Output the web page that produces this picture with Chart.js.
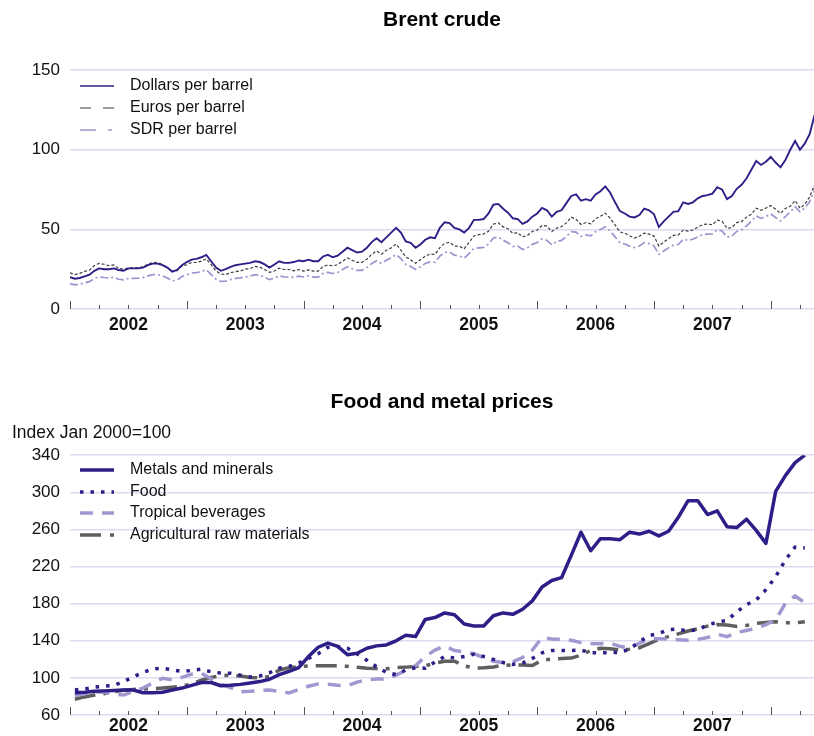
<!DOCTYPE html>
<html>
<head>
<meta charset="utf-8">
<title>Brent crude - Food and metal prices</title>
<script src="https://cdn.jsdelivr.net/npm/chart.js@4.4.1/dist/chart.umd.min.js"></script>
<style>
  html, body { margin: 0; padding: 0; background: #fff; }
  #contenitore { position: relative; width: 814px; height: 736px; }
  #grafico-brent { position: absolute; left: 0; top: 0; }
  #grafico-prezzi { position: absolute; left: 0; top: 380px; }
</style>
</head>
<body>
<div id="contenitore">
  <canvas id="grafico-brent" width="814" height="345"></canvas>
  <canvas id="grafico-prezzi" width="814" height="356"></canvas>
</div>
<script>
// --- dati ---------------------------------------------------------------
var anni = [2002, 2003, 2004, 2005, 2006, 2007];
var inizioAsse = 2002;
var fineAsse = 2008.37;

// Brent, due valori al mese (1 e 16), gen 2002 - meta maggio 2008
var brentDollari = [
  20.0, 19.0, 19.5, 20.5, 21.5, 24.0, 25.5, 25.0, 25.0, 25.5, 24.5, 24.0,
  25.5, 25.5, 25.5, 26.0, 27.5, 28.5, 28.5, 27.5, 26.0, 23.5, 24.5, 27.5,
  29.5, 31.0, 31.5, 32.5, 34.0, 30.0, 26.0, 24.0, 25.0, 26.5, 27.5, 28.0,
  28.5, 29.0, 30.0, 29.5, 28.0, 26.0, 28.0, 30.0, 29.0, 29.0, 29.5, 30.5,
  30.0, 31.0, 30.0, 30.0, 33.0, 34.0, 32.5, 33.5, 36.0, 38.5, 37.0, 35.5,
  36.0, 38.5, 42.0, 44.5, 42.0, 45.0, 48.0, 51.0, 48.0, 42.5, 41.5, 38.5,
  40.5, 43.5, 45.0, 44.5, 51.0, 54.5, 54.0, 51.0, 50.0, 48.0, 51.0, 56.0,
  56.0, 56.5, 60.0, 65.5, 66.0, 63.0, 60.5, 57.0, 56.5, 53.5, 55.0, 58.0,
  60.0, 63.5, 62.0, 58.0, 61.0, 62.0, 66.5, 71.0, 72.0, 68.0, 69.0, 68.0,
  72.0, 74.0, 77.0, 73.0, 67.0, 61.5, 60.0, 58.0, 57.5, 59.0, 63.0, 62.0,
  59.5, 51.5, 55.0, 58.0, 61.0, 61.5, 67.0, 66.0, 67.0, 69.5, 71.0, 71.5,
  72.5, 76.5, 75.0, 69.0, 71.0, 75.5, 78.0, 82.0, 87.5, 93.0, 90.5, 92.5,
  95.5, 92.0, 89.0, 93.5, 100.0, 105.5, 100.0, 104.0, 110.0, 122.0
];
var brentEuro = [
  22.7, 21.6, 22.4, 23.6, 24.4, 27.3, 28.7, 28.1, 27.2, 27.7, 25.5, 25.0,
  25.8, 25.8, 26.0, 26.5, 28.1, 29.1, 29.1, 28.1, 26.0, 23.5, 24.0, 27.0,
  27.8, 29.2, 29.2, 30.1, 31.5, 27.8, 23.9, 22.0, 21.6, 22.8, 23.5, 23.9,
  25.0, 25.4, 26.8, 26.3, 24.8, 23.0, 23.9, 25.6, 24.8, 24.8, 24.0, 24.8,
  23.8, 24.6, 23.8, 23.8, 26.8, 27.6, 27.1, 27.9, 30.0, 32.1, 30.6, 29.3,
  29.3, 31.3, 34.4, 36.5, 34.4, 36.9, 38.4, 40.8, 36.9, 32.7, 31.0, 28.7,
  30.9, 33.2, 34.6, 34.2, 38.6, 41.3, 41.9, 39.5, 39.4, 37.8, 41.8, 45.9,
  46.7, 47.1, 48.8, 53.3, 54.1, 51.6, 50.4, 47.5, 47.9, 45.3, 46.2, 48.7,
  49.6, 52.5, 52.1, 48.7, 50.8, 51.7, 54.1, 57.7, 56.3, 53.1, 54.3, 53.5,
  56.7, 58.3, 60.2, 57.0, 52.8, 48.4, 47.6, 46.0, 44.6, 45.7, 47.7, 47.0,
  45.8, 39.6, 42.0, 44.3, 46.2, 46.6, 49.6, 48.9, 49.6, 51.5, 53.0, 53.4,
  52.9, 55.8, 55.1, 50.7, 51.1, 54.3, 54.9, 57.7, 59.5, 63.3, 62.0, 63.4,
  65.0, 62.6, 60.1, 63.2, 64.5, 68.1, 63.3, 65.8, 70.5, 78.0
];
var brentSdr = [
  16.0, 15.2, 15.6, 16.4, 17.2, 19.2, 20.2, 19.8, 19.5, 19.9, 18.7, 18.3,
  19.2, 19.2, 19.3, 19.7, 20.8, 21.6, 21.6, 20.8, 19.5, 17.7, 18.1, 20.4,
  21.5, 22.6, 22.8, 23.6, 24.6, 21.7, 18.7, 17.3, 17.5, 18.5, 19.2, 19.6,
  20.2, 20.6, 21.6, 21.2, 19.9, 18.4, 19.4, 20.8, 20.1, 20.1, 19.9, 20.6,
  20.1, 20.8, 20.0, 20.0, 22.3, 23.0, 22.3, 22.9, 24.8, 26.6, 25.3, 24.3,
  24.3, 26.0, 28.6, 30.3, 28.6, 30.6, 32.2, 34.2, 31.6, 28.0, 26.8, 24.8,
  26.6, 28.6, 29.6, 29.3, 33.3, 35.6, 35.8, 33.8, 33.3, 32.0, 34.7, 38.1,
  38.4, 38.7, 40.8, 44.6, 45.2, 43.2, 41.7, 39.3, 39.5, 37.4, 38.5, 40.6,
  41.7, 44.1, 43.1, 40.3, 42.4, 43.1, 45.5, 48.6, 48.3, 45.6, 46.6, 45.9,
  48.6, 50.0, 51.7, 49.0, 45.3, 41.6, 40.8, 39.5, 38.6, 39.6, 41.7, 41.1,
  39.7, 34.3, 36.4, 38.4, 40.1, 40.5, 43.8, 43.1, 43.8, 45.4, 46.7, 47.0,
  47.1, 49.7, 49.0, 45.1, 45.8, 48.7, 49.7, 52.2, 55.0, 58.5, 56.9, 58.2,
  59.7, 57.5, 55.3, 58.1, 61.0, 64.3, 61.0, 63.4, 67.5, 75.0
];

// indici mensili (Jan 2000=100), gen 2002 - apr 2008
var metalli = [
  84, 84.5, 85.5, 86, 86.5, 87, 87, 84, 84, 84.5, 87, 89,
  92, 95, 95, 91.5, 92, 93, 94.5, 96, 98.5, 103.5, 107, 111,
  123, 133, 137.5, 134, 125, 126.5, 132, 134.5, 135.5, 140, 146, 144.5,
  163, 165, 170, 168, 158, 156, 156, 167, 170, 168.5, 174, 183,
  198, 205, 208, 232, 257, 237, 250, 250, 249, 257, 255, 258,
  253, 258, 273, 291, 291, 276, 280, 263, 262, 271, 259, 245,
  301, 318, 332, 340
];
var alimentari = [
  87, 88, 90, 91, 92, 96, 101, 106, 109.5, 110.5, 108.7, 107,
  108, 109.4, 106.5, 105.2, 105, 103, 101, 102, 105.5, 110.5, 112.3, 116,
  121, 126, 133, 133.8, 132, 126, 119, 112, 106, 103.5, 108.5, 111,
  110.5, 117, 123, 121.5, 123, 125.5, 123, 120, 116.5, 114.5, 116, 121,
  127, 129.5, 129.5, 129.5, 130, 127, 127, 127.3, 127.3, 131, 139, 145.5,
  148, 152, 152.5, 150.5, 152, 157, 160, 162, 171, 179, 184, 195,
  209, 227, 241, 240
];
var bevandeTropicali = [
  81, 83, 85, 84.5, 82.5, 81.5, 85.5, 89, 94.5, 99.5, 98, 100.5,
  104, 105, 99, 93, 89.5, 85, 85.5, 86.5, 87, 85.5, 83.8, 87.5,
  91, 93.5, 93.2, 92, 91.5, 95.5, 98, 98.7, 98.7, 103, 108, 113,
  123, 130, 134.5, 129.5, 128, 126, 122, 118, 116.6, 117.3, 122, 130,
  143.5, 142, 141.5, 140.5, 138, 137, 136.8, 137.4, 134, 132, 137.5, 142,
  142.3, 141.7, 141.2, 140.5, 141.5, 143.5, 147, 144.5, 149, 151, 153.5, 157.5,
  162.5, 180.5, 188.3, 181
];
var materieAgricole = [
  77, 79.5, 81.5, 83, 85, 86.7, 87.5, 88, 88.5, 89, 90, 91,
  93.5, 97.5, 100.5, 102.5, 103, 102, 100.5, 100, 101.5, 108.5, 111, 112,
  113, 113, 113, 113, 112.5, 111.5, 110.5, 110, 109.8, 111, 111.6, 112.3,
  113, 116, 118, 118, 113, 110.7, 110.8, 111.8, 113.5, 114, 114, 113.3,
  119, 120.2, 120.8, 121.3, 124.5, 129.5, 132, 131.5, 130, 131, 132.5, 137,
  141.5, 144.5, 147.4, 150.5, 153, 155.8, 157.5, 157, 155.5, 156.5, 158.8, 159.8,
  160.5, 159.5, 159.5, 160.5
];

// --- impostazioni comuni ------------------------------------------------
Chart.defaults.font.family = '"Liberation Sans", Arial, Helvetica, sans-serif';
Chart.defaults.color = '#111';

var coloreBlu = '#2c1f87';
var coloreGriglia = '#dedbf0';

// punti ogni mezzo mese / a meta mese sull'asse in anni decimali
function puntiSemimensili(valori) {
  var punti = [];
  for (var i = 0; i < valori.length; i++) {
    punti.push({ x: inizioAsse + i / 24, y: valori[i] });
  }
  return punti;
}
function puntiMensili(valori) {
  var punti = [];
  for (var i = 0; i < valori.length; i++) {
    punti.push({ x: inizioAsse + (i + 0.5) / 12, y: valori[i] });
  }
  return punti;
}

// tacche trimestrali dentro l'area, quella d'inizio anno piu lunga
var taccheAsse = {
  id: 'taccheAsse',
  afterDraw: function(chart) {
    var asseX = chart.scales.x;
    var fondo = chart.chartArea.bottom;
    var ctx = chart.ctx;
    ctx.save();
    ctx.strokeStyle = '#555';
    ctx.lineWidth = 1;
    for (var a = inizioAsse; a <= 2008; a++) {
      for (var q = 0; q < 4; q++) {
        var t = a + q / 4;
        if (t > fineAsse) continue;
        var px = Math.round(asseX.getPixelForValue(t)) + 0.5;
        var lung = q === 0 ? 8 : 4;
        ctx.beginPath();
        ctx.moveTo(px, fondo);
        ctx.lineTo(px, fondo - lung);
        ctx.stroke();
      }
    }
    ctx.restore();
  }
};

function creaLegenda(trattini, spessori, primaRiga, passo) {
  return {
    id: 'legendaInterna',
    afterDraw: function(chart) {
      var ctx = chart.ctx;
      var area = chart.chartArea;
      var serie = chart.data.datasets;
      ctx.save();
      ctx.font = '16px "Liberation Sans", Arial, sans-serif';
      ctx.textBaseline = 'middle';
      for (var i = 0; i < serie.length; i++) {
        var y = Math.round(area.top + primaRiga + i * passo);
        ctx.beginPath();
        ctx.setLineDash(trattini[i]);
        ctx.strokeStyle = serie[i].borderColor;
        ctx.lineWidth = spessori[i];
        ctx.moveTo(area.left + 10, y);
        ctx.lineTo(area.left + 44, y);
        ctx.stroke();
        ctx.setLineDash([]);
        ctx.fillStyle = '#111';
        ctx.fillText(serie[i].label, area.left + 60, y);
      }
      ctx.restore();
    }
  };
}

function asseAnni(altezza, spazio) {
  return {
    type: 'linear',
    min: inizioAsse,
    max: fineAsse,
    grid: { display: false, drawTicks: false, tickLength: 0 },
    border: { display: false },
    afterBuildTicks: function(scale) {
      scale.ticks = anni.map(function(a) { return { value: a + 0.5 }; });
    },
    afterFit: function(scale) { scale.height = altezza; },
    ticks: {
      autoSkip: false,
      maxRotation: 0,
      padding: spazio,
      color: '#111',
      font: { size: 17.5, weight: 'bold' },
      callback: function(v) { return String(Math.floor(v)); }
    }
  };
}

function asseValori(min, max, passo, larghezza) {
  return {
    min: min,
    max: max,
    grid: { color: coloreGriglia, lineWidth: 1.5, drawTicks: false },
    border: { display: false },
    afterFit: function(scale) { scale.width = larghezza; },
    ticks: {
      stepSize: passo,
      padding: 10,
      color: '#111',
      font: { size: 17 }
    }
  };
}

// --- Brent crude --------------------------------------------------------
function graficoBrent() {
  var ctx = document.getElementById('grafico-brent');
  new Chart(ctx, {
    type: 'line',
    data: {
      datasets: [{
        label: 'Dollars per barrel',
        data: puntiSemimensili(brentDollari),
        borderColor: coloreBlu,
        borderWidth: 1.9
      }, {
        label: 'Euros per barrel',
        data: puntiSemimensili(brentEuro),
        borderColor: '#3d3d3d',
        borderWidth: 1.2,
        borderDash: [3, 2]
      }, {
        label: 'SDR per barrel',
        data: puntiSemimensili(brentSdr),
        borderColor: '#9e93cf',
        borderWidth: 1.7,
        borderDash: [8, 3, 2, 3]
      }]
    },
    options: {
      responsive: false,
      animation: false,
      elements: { point: { radius: 0 }, line: { tension: 0 } },
      layout: { padding: { left: 0, right: 0, top: 0, bottom: 0 } },
      scales: {
        x: asseAnni(36, 6),
        y: asseValori(0, 150, 50, 70)
      },
      plugins: {
        legend: { display: false },
        tooltip: { enabled: false },
        title: {
          display: true,
          text: 'Brent crude',
          fullSize: false,
          color: '#000',
          font: { size: 21, weight: 'bold' },
          padding: { top: 8, bottom: 37 }
        }
      }
    },
    plugins: [taccheAsse, creaLegenda([[], [11, 12], [16, 12, 4, 12]], [1.3, 1.2, 1.6], 16, 21.8)]
  });
}

// --- Food and metal prices ----------------------------------------------
function graficoPrezzi() {
  var ctx = document.getElementById('grafico-prezzi');
  new Chart(ctx, {
    type: 'line',
    data: {
      datasets: [{
        label: 'Metals and minerals',
        data: puntiMensili(metalli),
        borderColor: coloreBlu,
        borderWidth: 3.5,
        borderJoinStyle: 'round'
      }, {
        label: 'Food',
        data: puntiMensili(alimentari),
        borderColor: coloreBlu,
        borderWidth: 3.5,
        borderDash: [3.5, 7]
      }, {
        label: 'Tropical beverages',
        data: puntiMensili(bevandeTropicali),
        borderColor: '#a497d1',
        borderWidth: 3.5,
        borderDash: [13, 9]
      }, {
        label: 'Agricultural raw materials',
        data: puntiMensili(materieAgricole),
        borderColor: '#5f5f5f',
        borderWidth: 3.5,
        borderDash: [21, 8, 4, 8]
      }]
    },
    options: {
      responsive: false,
      animation: false,
      elements: { point: { radius: 0 }, line: { tension: 0 } },
      layout: { padding: { left: 12, right: 0, top: 0, bottom: 0 } },
      scales: {
        x: asseAnni(21, 1),
        y: asseValori(60, 340, 40, 58)
      },
      plugins: {
        legend: { display: false },
        tooltip: { enabled: false },
        title: {
          display: true,
          text: 'Food and metal prices',
          fullSize: false,
          color: '#000',
          font: { size: 21, weight: 'bold' },
          padding: { top: 10, bottom: 7 }
        },
        subtitle: {
          display: true,
          text: 'Index Jan 2000=100',
          align: 'start',
          color: '#111',
          font: { size: 17.5 },
          padding: { top: 0, bottom: 12 }
        }
      }
    },
    plugins: [taccheAsse, creaLegenda([[], [3.5, 7], [13, 9], [21, 9, 4, 9]], [3.5, 3.5, 3.5, 3.5], 15, 21.5)]
  });
}

graficoBrent();
graficoPrezzi();
</script>
</body>
</html>
